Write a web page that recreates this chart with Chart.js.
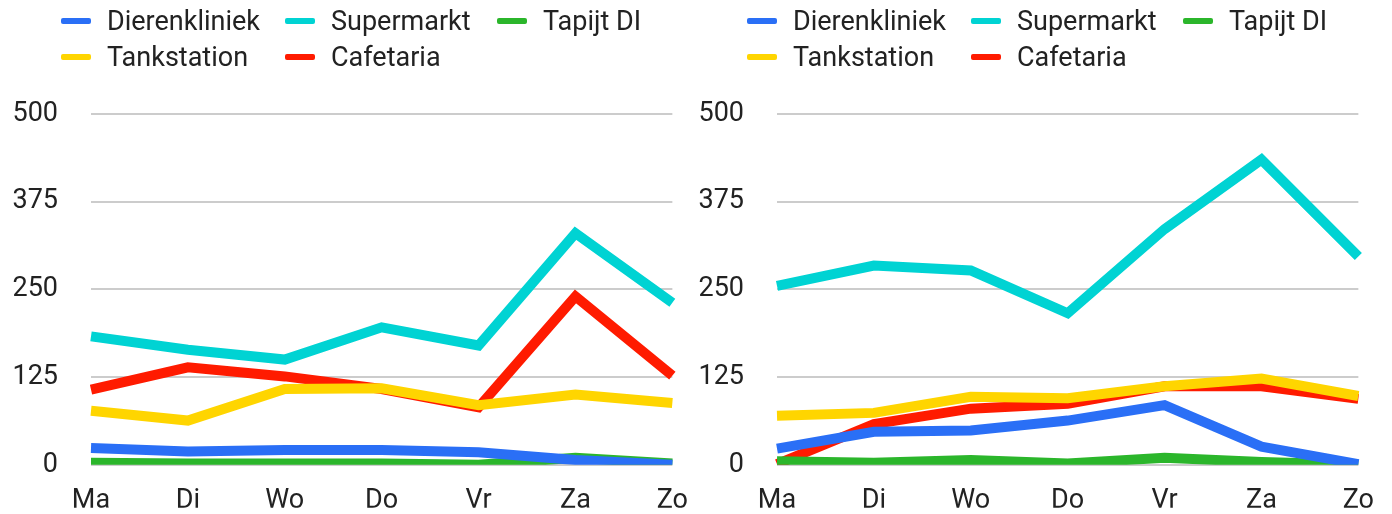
<!DOCTYPE html>
<html>
<head>
<meta charset="utf-8">
<script src="https://cdn.jsdelivr.net/npm/chart.js@4"></script>
<style>
  html, body { margin: 0; padding: 0; background: #fff; }
  body { width: 1392px; height: 514px; position: relative; overflow: hidden; font-family: Roboto, sans-serif; }
  .panel { position: absolute; top: 0; width: 700px; height: 514px; }
  .panel canvas { position: absolute; left: 0; top: 0; }
  .legend { position: absolute; top: 5px; display: grid; grid-template-columns: 224px 212px auto; row-gap: 4px; font-size: 27px; color: #222; }
  .legend div { display: flex; align-items: center; height: 32px; white-space: nowrap; }
  .legend span.mark { display: inline-block; width: 30px; height: 6px; border-radius: 2px; margin-right: 16px; }
</style>
</head>
<body>
<div class="panel" id="p1" style="left:0"><canvas id="chartLeft" width="700" height="514"></canvas><div class="legend" id="legLeft" style="left:61px"></div></div>
<div class="panel" id="p2" style="left:686px"><canvas id="chartRight" width="700" height="514"></canvas><div class="legend" id="legRight" style="left:61px"></div></div>
<script>
// categories
const days = ['Ma', 'Di', 'Wo', 'Do', 'Vr', 'Za', 'Zo'];
const yTicks = [0, 125, 250, 375, 500];

const seriesNames = ['Dierenkliniek', 'Supermarkt', 'Tapijt DI', 'Tankstation', 'Cafetaria'];
const seriesColors = ['#2a6ff6', '#00d3d3', '#2bb62b', '#ffd500', '#ff1b00'];

// left chart
const leftDierenkliniek = [24, 19, 21, 21, 18, 7, 0];
const leftSupermarkt = [183, 164, 150, 196, 170, 330, 231];
const leftTapijt = [3, 2, 2, 2, 0, 10, 2];
const leftTankstation = [77, 63, 108, 109, 85, 100, 88];
const leftCafetaria = [107, 139, 126, 108, 82, 240, 127];

// right chart
const rightDierenkliniek = [23, 47, 49, 63, 85, 26, 1];
const rightSupermarkt = [255, 284, 277, 216, 336, 435, 297];
const rightTapijt = [5, 3, 7, 2, 10, 4, 0];
const rightTankstation = [70, 74, 97, 95, 112, 123, 98];
const rightCafetaria = [1, 58, 80, 87, 112, 112, 94];

Chart.defaults.font.family = 'Roboto, sans-serif';
Chart.defaults.color = '#222';

function makeLegend(id) {
	var el = document.getElementById(id);
	seriesNames.forEach(function (name, i) {
		var d = document.createElement('div');
		d.innerHTML = '<span class="mark" style="background:' + seriesColors[i] + '"></span>' + name;
		el.appendChild(d);
	});
}

function makeChart(id, values) {
	var datasets = values.map(function (data, i) {
		return {
			label: seriesNames[i],
			data: data,
			borderColor: seriesColors[i],
			backgroundColor: seriesColors[i],
			borderWidth: 10,
			pointRadius: 0,
			pointHoverRadius: 0,
			tension: 0,
			borderJoinStyle: 'miter',
			fill: false
		};
	});
	new Chart(document.getElementById(id), {
		type: 'line',
		data: { labels: days, datasets: datasets },
		options: {
			responsive: false,
			animation: false,
			layout: { padding: { top: 114, right: 27, left: 0, bottom: 0 } },
			plugins: {
				legend: { display: false },
				tooltip: { enabled: false }
			},
			scales: {
				x: {
					offset: false,
					grid: { display: false },
					border: { display: false },
					ticks: { font: { size: 27 }, padding: 12, maxRotation: 0 },
					afterFit: function (scale) { scale.height = 43; }
				},
				y: {
					min: 0,
					max: 500,
					afterBuildTicks: function (scale) {
						scale.ticks = yTicks.map(function (v) { return { value: v }; });
					},
					grid: { color: '#cccccc', lineWidth: 2, drawTicks: false },
					border: { display: false },
					ticks: { font: { size: 27 }, padding: 33 },
					afterFit: function (scale) { scale.width = 91; }
				}
			}
		}
	});
}

makeLegend('legLeft');
makeLegend('legRight');
makeChart('chartLeft', [leftDierenkliniek, leftSupermarkt, leftTapijt, leftTankstation, leftCafetaria]);
makeChart('chartRight', [rightDierenkliniek, rightSupermarkt, rightTapijt, rightTankstation, rightCafetaria]);
</script>
</body>
</html>
